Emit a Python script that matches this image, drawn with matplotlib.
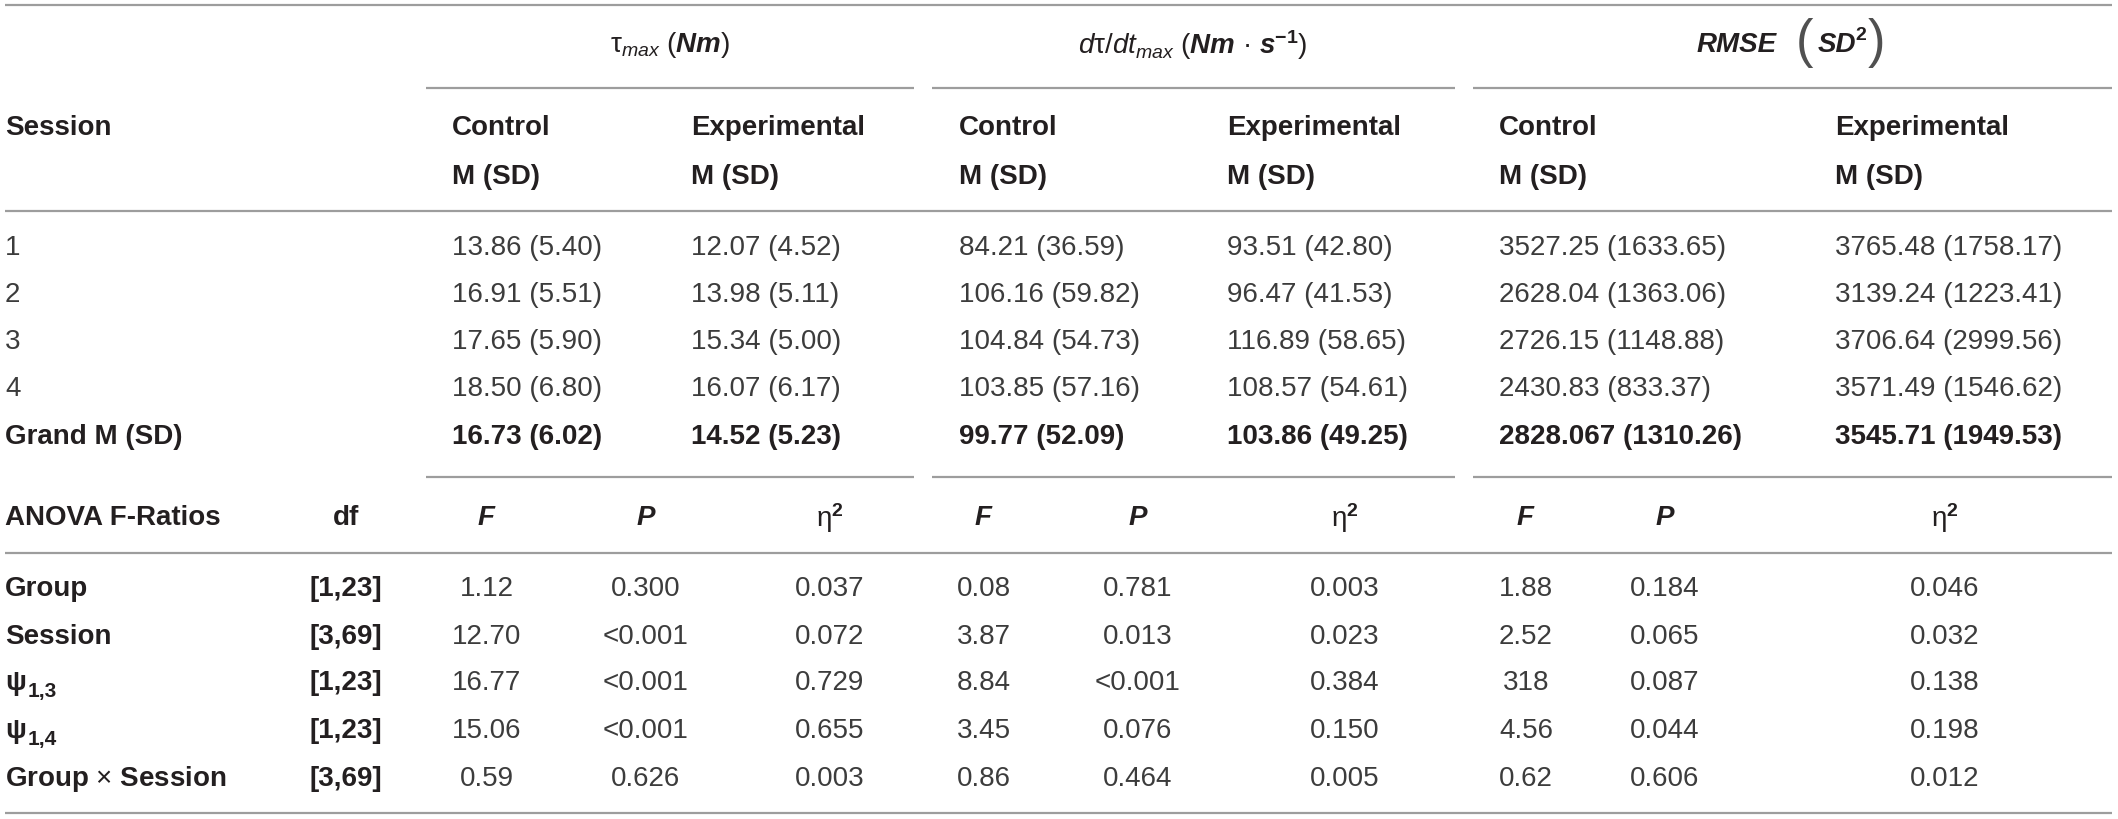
import matplotlib
matplotlib.use("Agg")
import matplotlib.pyplot as plt

plt.rcParams['font.family'] = ['Liberation Sans', 'DejaVu Sans']
plt.rcParams['mathtext.fontset'] = 'custom'
plt.rcParams['mathtext.rm'] = 'Liberation Sans'
plt.rcParams['mathtext.it'] = 'Liberation Sans:italic'
plt.rcParams['mathtext.bf'] = 'Liberation Sans:bold'
plt.rcParams['mathtext.bfit'] = 'Liberation Sans:italic:bold'

# --- table content ---
sessions = ['1', '2', '3', '4']
tau_ctrl = ['13.86 (5.40)', '16.91 (5.51)', '17.65 (5.90)', '18.50 (6.80)']
tau_exp = ['12.07 (4.52)', '13.98 (5.11)', '15.34 (5.00)', '16.07 (6.17)']
rate_ctrl = ['84.21 (36.59)', '106.16 (59.82)', '104.84 (54.73)', '103.85 (57.16)']
rate_exp = ['93.51 (42.80)', '96.47 (41.53)', '116.89 (58.65)', '108.57 (54.61)']
rmse_ctrl = ['3527.25 (1633.65)', '2628.04 (1363.06)', '2726.15 (1148.88)', '2430.83 (833.37)']
rmse_exp = ['3765.48 (1758.17)', '3139.24 (1223.41)', '3706.64 (2999.56)', '3571.49 (1546.62)']
grand = ['16.73 (6.02)', '14.52 (5.23)', '99.77 (52.09)', '103.86 (49.25)',
         '2828.067 (1310.26)', '3545.71 (1949.53)']

# effect labels: (main text, subscript)
effects = [('Group', ''), ('Session', ''), ('ψ', '1,3'), ('ψ', '1,4'), (None, '')]
dfs = ['[1,23]', '[3,69]', '[1,23]', '[1,23]', '[3,69]']
tau_F = ['1.12', '12.70', '16.77', '15.06', '0.59']
tau_P = ['0.300', '<0.001', '<0.001', '<0.001', '0.626']
tau_eta = ['0.037', '0.072', '0.729', '0.655', '0.003']
rate_F = ['0.08', '3.87', '8.84', '3.45', '0.86']
rate_P = ['0.781', '0.013', '<0.001', '0.076', '0.464']
rate_eta = ['0.003', '0.023', '0.384', '0.150', '0.005']
rmse_F = ['1.88', '2.52', '318', '4.56', '0.62']
rmse_P = ['0.184', '0.065', '0.087', '0.044', '0.606']
rmse_eta = ['0.046', '0.032', '0.138', '0.198', '0.012']

W, H = 2118, 819
fig = plt.figure(figsize=(W / 100, H / 100), dpi=100)
ax = fig.add_axes([0, 0, 1, 1])
ax.set_xlim(0, W)
ax.set_ylim(H, 0)
ax.axis('off')

FS = 20
DARK = '#231f20'
NUM = '#3c3c3c'
LINE = '#9d9d9d'
LW = 1.6


def hline(y, x0, x1):
    ax.plot([x0, x1], [y, y], color=LINE, lw=LW, solid_capstyle='butt')


def txt(x, y, s, ha='left', bold=False, color=None, size=FS, **kw):
    ax.text(x, y, s, ha=ha, va='center', fontsize=size,
            fontweight='bold' if bold else 'normal',
            color=color or (DARK if bold else NUM), **kw)


# rules
hline(5, 5, 2112)
spans = [(426, 914), (932, 1455), (1473, 2112)]
for x0, x1 in spans:
    hline(88, x0, x1)
    hline(477, x0, x1)
hline(211, 5, 2112)
hline(553, 5, 2112)
hline(813, 5, 2112)

# group headers
txt(670, 45, r'$\mathrm{τ}_{\mathit{max}}\ (\mathbfit{Nm})$', ha='center', color=DARK)
txt(1193, 45, r'$\mathit{d}\mathrm{τ}\mathit{/dt_{max}}\ (\mathbfit{Nm}\ \mathrm{·}\ \mathbfit{s}^{\mathbf{-1}})$',
    ha='center', color=DARK)
txt(1697, 45, 'RMSE', bold=True, style='italic')
txt(1796, 43, '(', color='#505050', size=38)
txt(1818, 45, 'SD', bold=True, style='italic')
txt(1855, 35, '2', bold=True, size=14)
txt(1868, 43, ')', color='#505050', size=38)

# column headers
col_x = [452, 691, 959, 1227, 1499, 1835]
txt(5, 128, 'Session', bold=True)
for i, x in enumerate(col_x):
    txt(x, 128, 'Control' if i % 2 == 0 else 'Experimental', bold=True)
    txt(x, 177, 'M (SD)', bold=True)

# session rows
row_y = [248, 295, 342, 389]
cols = [tau_ctrl, tau_exp, rate_ctrl, rate_exp, rmse_ctrl, rmse_exp]
for r, y in enumerate(row_y):
    txt(5, y, sessions[r])
    for x, c in zip(col_x, cols):
        txt(x, y, c[r])
txt(5, 437, 'Grand M (SD)', bold=True)
for x, g in zip(col_x, grand):
    txt(x, 437, g, bold=True)

# ANOVA header
F_x = [487, 984, 1526]
P_x = [646, 1138, 1665]
E_x = [830, 1345, 1945]
txt(5, 518, 'ANOVA F-Ratios', bold=True)
txt(346, 518, 'df', ha='center', bold=True)
for fx, px, ex in zip(F_x, P_x, E_x):
    txt(fx, 518, r'$\mathbfit{F}$', ha='center', color=DARK)
    txt(px, 518, r'$\mathbfit{P}$', ha='center', color=DARK)
    txt(ex, 518, r'$\mathrm{η}^{\mathbf{2}}$', ha='center', color=DARK)

anova_y = [589, 637, 683, 731, 779]
stats = [(tau_F, tau_P, tau_eta), (rate_F, rate_P, rate_eta), (rmse_F, rmse_P, rmse_eta)]
for r, y in enumerate(anova_y):
    main, sub = effects[r]
    if main is None:
        txt(5, y, r'$\mathbf{Group}\ \mathrm{×}\ \mathbf{Session}$', color=DARK)
    else:
        txt(5, y, main, bold=True)
        if sub:
            txt(28, y + 8, sub, bold=True, size=15)
    txt(346, y, dfs[r], ha='center', bold=True)
    for (Fv, Pv, Ev), fx, px, ex in zip(stats, F_x, P_x, E_x):
        txt(fx, y, Fv[r], ha='center')
        txt(px, y, Pv[r], ha='center')
        txt(ex, y, Ev[r], ha='center')

fig.savefig('out.png', dpi=100, facecolor='white')
